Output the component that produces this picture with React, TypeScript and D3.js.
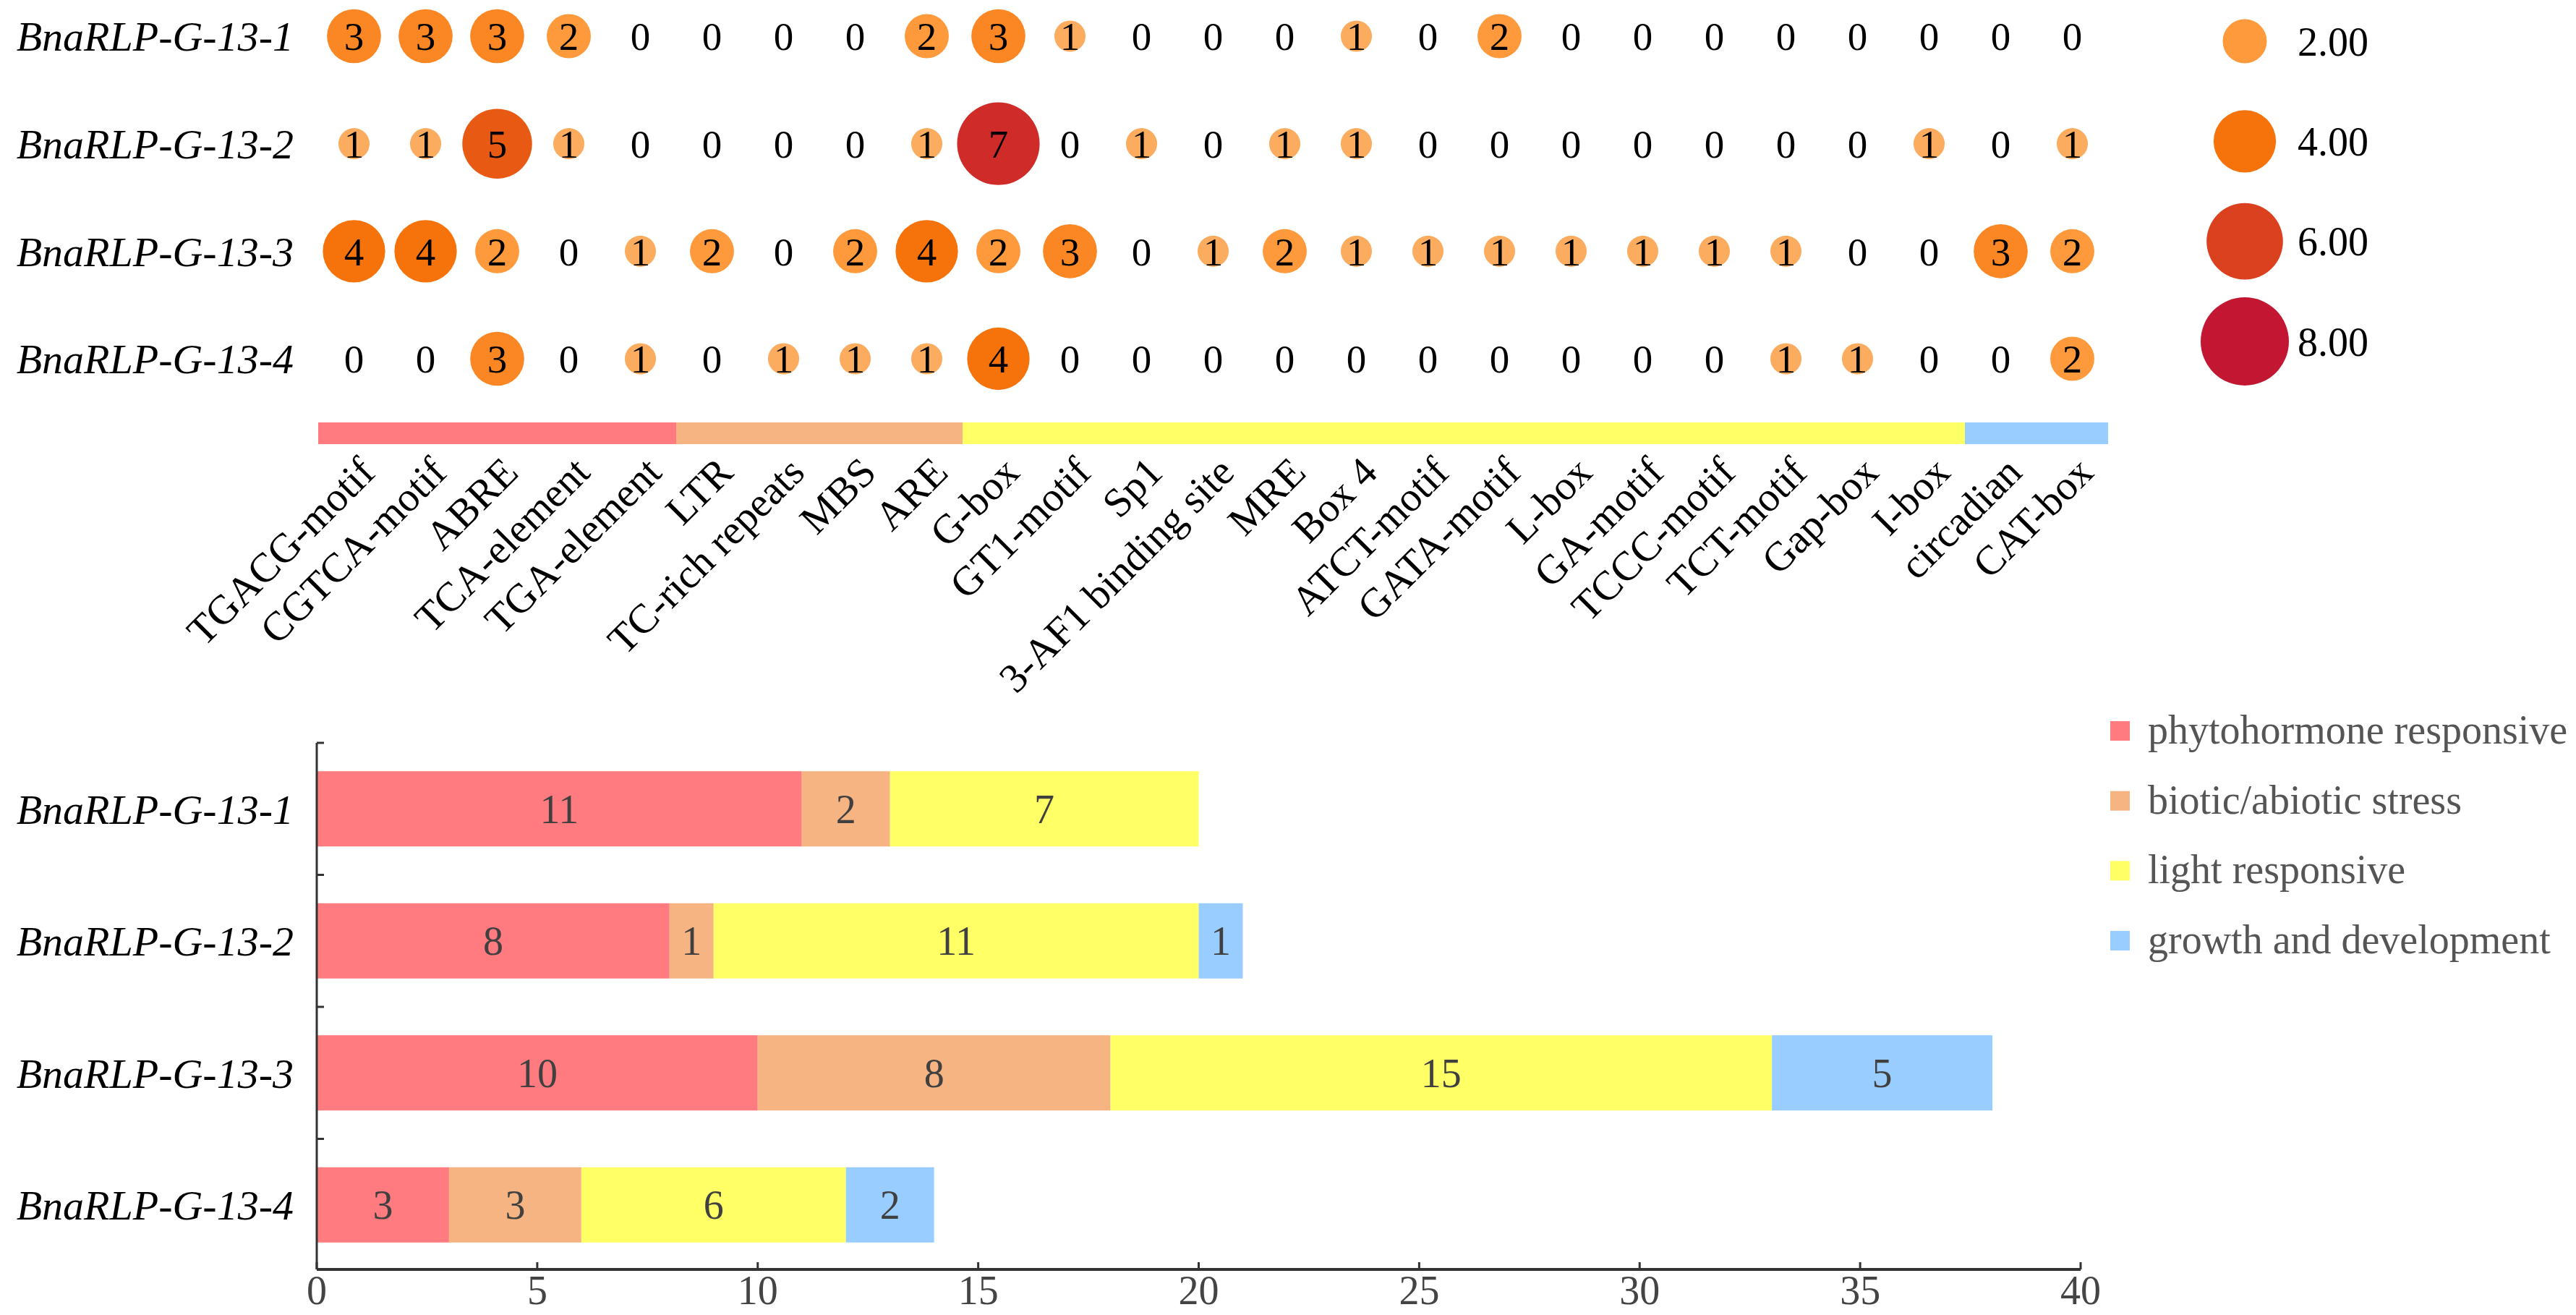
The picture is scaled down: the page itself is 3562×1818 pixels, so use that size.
import React from 'react';
import * as d3 from 'd3';

// cis-acting elements, in column order
const elements = [
  'TGACG-motif', 'CGTCA-motif', 'ABRE', 'TCA-element', 'TGA-element',
  'LTR', 'TC-rich repeats', 'MBS', 'ARE',
  'G-box', 'GT1-motif', 'Sp1', '3-AF1 binding site', 'MRE', 'Box 4', 'ATCT-motif',
  'GATA-motif', 'L-box', 'GA-motif', 'TCCC-motif', 'TCT-motif', 'Gap-box', 'I-box',
  'circadian', 'CAT-box',
];

const genes = ['BnaRLP-G-13-1', 'BnaRLP-G-13-2', 'BnaRLP-G-13-3', 'BnaRLP-G-13-4'];

// element counts per gene
const counts1 = [3, 3, 3, 2, 0, 0, 0, 0, 2, 3, 1, 0, 0, 0, 1, 0, 2, 0, 0, 0, 0, 0, 0, 0, 0];
const counts2 = [1, 1, 5, 1, 0, 0, 0, 0, 1, 7, 0, 1, 0, 1, 1, 0, 0, 0, 0, 0, 0, 0, 1, 0, 1];
const counts3 = [4, 4, 2, 0, 1, 2, 0, 2, 4, 2, 3, 0, 1, 2, 1, 1, 1, 1, 1, 1, 1, 0, 0, 3, 2];
const counts4 = [0, 0, 3, 0, 1, 0, 1, 1, 1, 4, 0, 0, 0, 0, 0, 0, 0, 0, 0, 0, 1, 1, 0, 0, 2];

// functional groups
const groupNames = ['phytohormone responsive', 'biotic/abiotic stress', 'light responsive', 'growth and development'];
const groupSizes = [5, 4, 14, 2];
const groupColors = ['#FF7B7F', '#F5B482', '#FFFF66', '#99CCFF'];

// stacked bar values per gene
const phytohormone = [11, 8, 10, 3];
const bioticStress = [2, 1, 8, 3];
const lightResp = [7, 11, 15, 6];
const growthDev = [0, 1, 5, 2];

const sizeLegend = [2, 4, 6, 8];
const xTicks = [0, 5, 10, 15, 20, 25, 30, 35, 40];

const W = 3562;
const H = 1818;
const FONT = '"Liberation Serif", "Times New Roman", serif';

export default function App() {
  const matrix = [counts1, counts2, counts3, counts4];

  // ---- bubble matrix ----
  const x = d3.scaleBand<string>().domain(elements).range([440, 2915]);
  const y = d3.scalePoint<string>().domain(genes).range([50, 496]);
  const r = d3.scaleSqrt().domain([0, 8]).range([0, 61]);
  const color = d3.scaleLinear<string>()
    .domain([1, 2, 4, 6, 8])
    .range(['#FBAC5F', '#FE9A3C', '#F5730A', '#DB411E', '#C21633']);
  const cx = (e: string) => (x(e) as number) + x.bandwidth() / 2;

  // group strip spans
  let start = 0;
  const strips = groupSizes.map((n, i) => {
    const s = { name: groupNames[i], x0: x(elements[start]) as number, x1: (x(elements[start + n - 1]) as number) + x.bandwidth(), c: groupColors[i] };
    start += n;
    return s;
  });

  // ---- stacked bars ----
  const barRows = genes.map((g, i) => ({
    gene: g,
    p: phytohormone[i],
    b: bioticStress[i],
    l: lightResp[i],
    g2: growthDev[i],
  }));
  const keys = ['p', 'b', 'l', 'g2'];
  const series = d3.stack<any>().keys(keys)(barRows);
  const xb = d3.scaleLinear().domain([0, 40]).range([438, 2877]);
  const yb = d3.scaleBand<string>().domain(genes).range([1027, 1757]);
  const barH = yb.bandwidth() * 0.57;
  const axisY = 1755;
  const legendY = d3.scalePoint<string>().domain(groupNames).range([1010, 1300]);
  const sizeY = d3.scalePoint<number>().domain(sizeLegend).range([57, 472]);

  return (
    <div style={{ position: 'absolute', left: 0, top: 0 }}>
      <svg width={W} height={H} style={{ display: 'block', background: '#fff' }} fontFamily={FONT}>
        {/* row labels, top */}
        {genes.map(g => (
          <text key={g} x={406} y={y(g)} dy="0.35em" textAnchor="end" fontSize={58} fontStyle="italic" fill="#000">
            {g}
          </text>
        ))}

        {/* bubbles */}
        {matrix.map((row, i) => (
          <g key={i}>
            {row.map((v, j) => (
              <g key={j} transform={`translate(${cx(elements[j])},${y(genes[i])})`}>
                {v > 0 && <circle r={r(v)} fill={color(v)} />}
                <text textAnchor="middle" dy="0.35em" fontSize={55} fill="#000">{v}</text>
              </g>
            ))}
          </g>
        ))}

        {/* size legend */}
        {sizeLegend.map(v => (
          <g key={v}>
            <circle cx={3104} cy={sizeY(v)} r={r(v)} fill={color(v)} />
            <text x={3177} y={sizeY(v)} dy="0.35em" fontSize={56} fill="#000">{v.toFixed(2)}</text>
          </g>
        ))}

        {/* group strip */}
        {strips.map(s => (
          <rect key={s.name} x={s.x0} y={584} width={s.x1 - s.x0} height={30} fill={s.c} />
        ))}

        {/* column labels */}
        {elements.map(e => (
          <text key={e} transform={`translate(${cx(e) + 32},${656}) rotate(-45)`} textAnchor="end" fontSize={57} fill="#000">
            {e}
          </text>
        ))}

        {/* stacked bars */}
        {series.map((s, si) => (
          <g key={s.key} fill={groupColors[si]}>
            {s.map((d, di) => {
              const v = d[1] - d[0];
              if (v <= 0) return null;
              const by = (yb(genes[di]) as number) + (yb.bandwidth() - barH) / 2;
              return (
                <g key={di}>
                  <rect x={xb(d[0])} y={by} width={xb(d[1]) - xb(d[0])} height={barH} />
                  <text x={(xb(d[0]) + xb(d[1])) / 2} y={by + barH / 2} dy="0.35em" textAnchor="middle" fontSize={56} fill="#404040">
                    {v}
                  </text>
                </g>
              );
            })}
          </g>
        ))}

        {/* bar row labels */}
        {genes.map(g => (
          <text key={g} x={406} y={(yb(g) as number) + yb.bandwidth() / 2} dy="0.35em" textAnchor="end" fontSize={58} fontStyle="italic" fill="#000">
            {g}
          </text>
        ))}

        {/* y axis */}
        <line x1={xb(0)} x2={xb(0)} y1={1027} y2={axisY} stroke="#333" strokeWidth={3} />
        {genes.map(g => (
          <line key={g} x1={xb(0)} x2={xb(0) + 10} y1={yb(g)} y2={yb(g)} stroke="#333" strokeWidth={3} />
        ))}

        {/* x axis */}
        <line x1={xb(0)} x2={xb(40)} y1={axisY} y2={axisY} stroke="#333" strokeWidth={4} />
        {xTicks.map(t => (
          <g key={t} transform={`translate(${xb(t)},${axisY})`}>
            <line y1={0} y2={-10} stroke="#333" strokeWidth={3} />
            <text y={48} textAnchor="middle" fontSize={56} fill="#444">{t}</text>
          </g>
        ))}

        {/* group legend */}
        {groupNames.map((n, i) => (
          <g key={n}>
            <rect x={2918} y={(legendY(n) as number) - 13} width={27} height={27} fill={groupColors[i]} />
            <text x={2970} y={legendY(n)} dy="0.32em" fontSize={56} fill="#555">{n}</text>
          </g>
        ))}
      </svg>
    </div>
  );
}
